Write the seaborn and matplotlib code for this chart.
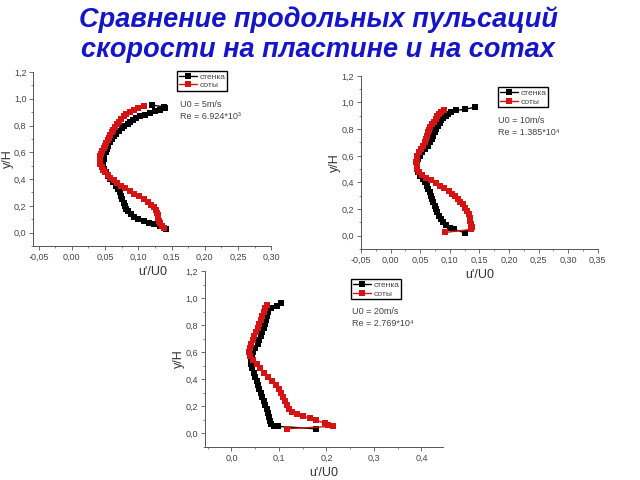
import numpy as np
import pandas as pd
import matplotlib
matplotlib.use("Agg")
import matplotlib.pyplot as plt
import seaborn as sns
from matplotlib.ticker import MultipleLocator, AutoMinorLocator, FuncFormatter

# --- data ---
# U0 = 5 m/s
p1_wall_x = [0.120, 0.138, 0.140, 0.132, 0.125, 0.117, 0.110, 0.103, 0.097, 0.092, 0.088, 0.084, 0.079, 0.075,
             0.071, 0.067, 0.064, 0.061, 0.058, 0.055, 0.053, 0.051, 0.049, 0.048, 0.047, 0.047, 0.049, 0.052,
             0.055, 0.058, 0.062, 0.066, 0.069, 0.072, 0.074, 0.076, 0.078, 0.080, 0.082, 0.085, 0.089, 0.094,
             0.100, 0.108, 0.116, 0.124, 0.132, 0.138, 0.141]
p1_wall_y = [0.953, 0.940, 0.928, 0.918, 0.905, 0.893, 0.882, 0.870, 0.858, 0.845, 0.830, 0.815, 0.800, 0.780,
             0.760, 0.740, 0.720, 0.700, 0.675, 0.650, 0.625, 0.600, 0.575, 0.550, 0.525, 0.500, 0.475, 0.450,
             0.425, 0.400, 0.375, 0.350, 0.325, 0.300, 0.275, 0.250, 0.225, 0.200, 0.180, 0.160, 0.140, 0.120,
             0.105, 0.090, 0.075, 0.062, 0.050, 0.038, 0.028]
p1_cell_x = [0.108, 0.100, 0.093, 0.087, 0.082, 0.078, 0.074, 0.071, 0.068, 0.065, 0.062, 0.060, 0.058, 0.056,
             0.054, 0.052, 0.050, 0.048, 0.046, 0.044, 0.043, 0.042, 0.042, 0.043, 0.045, 0.047, 0.050, 0.054,
             0.058, 0.063, 0.068, 0.074, 0.080, 0.087, 0.094, 0.101, 0.108, 0.114, 0.119, 0.123, 0.126, 0.128,
             0.129, 0.130, 0.131, 0.133, 0.135, 0.138]
p1_cell_y = [0.943, 0.930, 0.915, 0.900, 0.885, 0.870, 0.850, 0.830, 0.810, 0.790, 0.770, 0.750, 0.730, 0.710,
             0.690, 0.670, 0.650, 0.630, 0.610, 0.590, 0.570, 0.550, 0.530, 0.510, 0.490, 0.470, 0.450, 0.430,
             0.410, 0.390, 0.370, 0.350, 0.330, 0.310, 0.290, 0.270, 0.250, 0.230, 0.210, 0.190, 0.170, 0.150,
             0.130, 0.110, 0.090, 0.070, 0.050, 0.035]

# U0 = 10 m/s
p2_wall_x = [0.143, 0.126, 0.111, 0.102, 0.097, 0.093, 0.089, 0.086, 0.083, 0.080, 0.077, 0.075, 0.072, 0.070,
             0.067, 0.063, 0.058, 0.053, 0.049, 0.046, 0.044, 0.044, 0.045, 0.047, 0.050, 0.054, 0.058, 0.061,
             0.063, 0.066, 0.068, 0.070, 0.072, 0.075, 0.077, 0.079, 0.082, 0.085, 0.089, 0.094, 0.100, 0.108,
             0.126]
p2_wall_y = [0.965, 0.950, 0.940, 0.928, 0.915, 0.900, 0.885, 0.865, 0.845, 0.825, 0.800, 0.775, 0.750, 0.725,
             0.700, 0.675, 0.650, 0.625, 0.600, 0.575, 0.550, 0.525, 0.500, 0.475, 0.450, 0.425, 0.400, 0.375,
             0.350, 0.325, 0.300, 0.275, 0.250, 0.225, 0.200, 0.175, 0.150, 0.125, 0.100, 0.080, 0.062, 0.048,
             0.022]
p2_cell_x = [0.090, 0.086, 0.082, 0.079, 0.076, 0.073, 0.070, 0.067, 0.065, 0.063, 0.061, 0.060, 0.058, 0.055,
             0.052, 0.048, 0.045, 0.044, 0.043, 0.044, 0.045, 0.048, 0.053, 0.060, 0.068, 0.076, 0.084, 0.091,
             0.098, 0.104, 0.109, 0.114, 0.118, 0.122, 0.126, 0.129, 0.132, 0.134, 0.135, 0.136, 0.137, 0.136,
             0.092]
p2_cell_y = [0.945, 0.930, 0.912, 0.895, 0.875, 0.855, 0.835, 0.815, 0.795, 0.775, 0.750, 0.725, 0.700, 0.675,
             0.650, 0.625, 0.600, 0.575, 0.550, 0.525, 0.500, 0.475, 0.455, 0.435, 0.415, 0.395, 0.375, 0.355,
             0.335, 0.315, 0.295, 0.275, 0.255, 0.235, 0.210, 0.185, 0.160, 0.135, 0.110, 0.085, 0.065, 0.048,
             0.025]

# U0 = 20 m/s
p3_wall_x = [0.105, 0.095, 0.084, 0.077, 0.074, 0.072, 0.070, 0.068, 0.065, 0.062, 0.059, 0.055, 0.050, 0.046,
             0.043, 0.041, 0.042, 0.044, 0.047, 0.050, 0.053, 0.056, 0.059, 0.062, 0.065, 0.068, 0.071, 0.074,
             0.077, 0.079, 0.081, 0.084, 0.090, 0.098, 0.177]
p3_wall_y = [0.963, 0.943, 0.926, 0.900, 0.870, 0.840, 0.810, 0.780, 0.750, 0.720, 0.690, 0.660, 0.630, 0.600,
             0.570, 0.540, 0.510, 0.480, 0.450, 0.420, 0.390, 0.360, 0.330, 0.300, 0.270, 0.240, 0.210, 0.180,
             0.150, 0.120, 0.095, 0.072, 0.055, 0.052, 0.034]
p3_cell_x = [0.074, 0.071, 0.068, 0.065, 0.062, 0.058, 0.055, 0.052, 0.048, 0.045, 0.042, 0.039, 0.038, 0.040,
             0.046, 0.053, 0.061, 0.069, 0.077, 0.085, 0.093, 0.100, 0.105, 0.109, 0.113, 0.117, 0.122, 0.128,
             0.138, 0.151, 0.165, 0.179, 0.196, 0.204, 0.213, 0.116]
p3_cell_y = [0.950, 0.925, 0.900, 0.870, 0.840, 0.810, 0.780, 0.750, 0.720, 0.690, 0.660, 0.630, 0.600, 0.570,
             0.540, 0.510, 0.480, 0.450, 0.420, 0.390, 0.360, 0.330, 0.300, 0.270, 0.240, 0.210, 0.180, 0.155,
             0.140, 0.126, 0.113, 0.096, 0.076, 0.064, 0.052, 0.034]

labels = ["стенка", "соты"]
u0_text = ["U0 = 5m/s", "U0 = 10m/s", "U0 = 20m/s"]
re_text = ["Re = 6.924*10³", "Re = 1.385*10⁴", "Re = 2.769*10⁴"]
title = "Сравнение продольных пульсаций\nскорости на пластине и на сотах"

sns.set_style("ticks")
plt.rcParams['font.family'] = ['Liberation Sans', 'DejaVu Sans']

fig = plt.figure(figsize=(6.4, 4.8), dpi=100)
fig.text(0.497, 0.927, title, ha='center', va='center', fontsize=19.5, fontweight='bold',
         fontstyle='italic', color='#1414c8', linespacing=1.2)

panels = [
    dict(rect=[0.052, 0.4875, 0.372, 0.3625], xlim=(-0.058, 0.30), xstep=0.05, dec=2,
         wall=(p1_wall_x, p1_wall_y), cell=(p1_cell_x, p1_cell_y), leg=(0.277, 0.852), txt=(0.281, 0.783)),
    dict(rect=[0.564, 0.481, 0.370, 0.361], xlim=(-0.05, 0.35), xstep=0.05, dec=2,
         wall=(p2_wall_x, p2_wall_y), cell=(p2_cell_x, p2_cell_y), leg=(0.778, 0.818), txt=(0.778, 0.748)),
    dict(rect=[0.320, 0.069, 0.372, 0.366], xlim=(-0.056, 0.445), xstep=0.1, dec=1,
         wall=(p3_wall_x, p3_wall_y), cell=(p3_cell_x, p3_cell_y), leg=(0.549, 0.418), txt=(0.550, 0.352)),
]

grey = '#555555'
for i, p in enumerate(panels):
    ax = fig.add_axes(p['rect'])
    for (xs, ys), lab, col in zip([p['wall'], p['cell']], labels, ['black', '#d41414']):
        df = pd.DataFrame({'x': xs, 'y': ys})
        sns.lineplot(data=df, x='x', y='y', sort=False, estimator=None, marker='s', markersize=4.3,
                     markeredgewidth=0, color=col, linewidth=1.0, label=lab, ax=ax)
    ax.set_xlim(*p['xlim'])
    ax.set_ylim(-0.1, 1.2)
    ax.xaxis.set_major_locator(MultipleLocator(p['xstep']))
    ax.xaxis.set_minor_locator(AutoMinorLocator(2))
    ax.yaxis.set_major_locator(MultipleLocator(0.2))
    ax.yaxis.set_minor_locator(AutoMinorLocator(2))
    dec = p['dec']
    ax.xaxis.set_major_formatter(FuncFormatter(lambda v, pos, d=dec: f"{v:.{d}f}".replace('.', ',').replace('-0,00', '0,00')))
    ax.yaxis.set_major_formatter(FuncFormatter(lambda v, pos: f"{v:.1f}".replace('.', ',').replace('-0,0', '0,0')))
    ax.tick_params(which='major', direction='out', length=3, width=0.6, color=grey,
                   labelsize=6.5, labelcolor='#444444', pad=2)
    ax.tick_params(which='minor', direction='out', length=1.5, width=0.5, color=grey)
    sns.despine(ax=ax)
    for s in ['left', 'bottom']:
        ax.spines[s].set_color(grey)
        ax.spines[s].set_linewidth(0.7)
    ax.set_xlabel("u'/U0", fontsize=9, color='#333333', labelpad=3)
    ax.set_ylabel("y/H", fontsize=9, color='#333333', labelpad=0)
    ax.legend(loc='upper left', bbox_to_anchor=p['leg'], bbox_transform=fig.transFigure,
              fontsize=6, frameon=True, fancybox=False, edgecolor='black', framealpha=1,
              borderpad=0.2, labelspacing=0.1, handlelength=2.2, handletextpad=0.3,
              borderaxespad=0, labelcolor='#444444')
    fig.text(p['txt'][0], p['txt'][1], u0_text[i], fontsize=6.5, color='#444444', va='center')
    fig.text(p['txt'][0], p['txt'][1] - 0.025, re_text[i], fontsize=6.5, color='#444444', va='center')

fig.savefig("out.png", dpi=100)
